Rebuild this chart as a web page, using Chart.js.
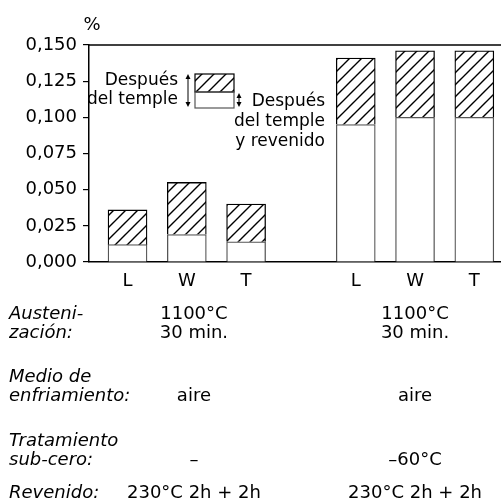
<!DOCTYPE html>
<html>
<head>
<meta charset="utf-8">
<script src="https://cdn.jsdelivr.net/npm/chart.js@4/dist/chart.umd.min.js"></script>
<style>
  html, body { margin: 0; padding: 0; background: #fff; }
  #wrap { width: 501px; height: 503px; }
</style>
</head>
<body>
<div id="wrap"><canvas id="chart"></canvas></div>
<script>
'use strict';

// Data (% retained austenite / change).
const categories = ['L', 'W', 'T', 'L', 'W', 'T'];
const afterQuench = [0.036, 0.055, 0.040, 0.141, 0.146, 0.146];     // después del temple
const afterTempering = [0.012, 0.019, 0.014, 0.095, 0.100, 0.100];  // después del temple y revenido

// Condition table under the bars.
const rowLabels = [['Austeni-', 'zación:'], ['Medio de', 'enfriamiento:'], ['Tratamiento', 'sub-cero:'], ['Revenido:']];
const group1Conditions = [['1100°C', '30 min.'], ['aire'], ['–'], ['230°C 2h + 2h']];
const group2Conditions = [['1100°C', '30 min.'], ['aire'], ['–60°C'], ['230°C 2h + 2h']];

// Layout (not data): x positions of the bars, so the two groups have a gap.
const xPos = [1, 2, 3, 4.85, 5.85, 6.85];
const FONT = '"DejaVu Sans", sans-serif';

function makeHatch(ctx) {
    let c = document.createElement('canvas');
    c.width = 12;
    c.height = 12;
    let g = c.getContext('2d');
    g.fillStyle = '#fff';
    g.fillRect(0, 0, 12, 12);
    g.strokeStyle = '#000';
    g.lineWidth = 1.4;
    g.beginPath();
    g.moveTo(0, 12); g.lineTo(12, 0);
    g.moveTo(-3, 3); g.lineTo(3, -3);
    g.moveTo(9, 15); g.lineTo(15, 9);
    g.stroke();
    return ctx.createPattern(c, 'repeat');
}

function arrow(ctx, x, y1, y2) {
    ctx.beginPath();
    ctx.moveTo(x, y1 + 3);
    ctx.lineTo(x, y2 - 3);
    ctx.stroke();
    ctx.beginPath();
    ctx.moveTo(x, y1); ctx.lineTo(x - 2.5, y1 + 5); ctx.lineTo(x + 2.5, y1 + 5); ctx.closePath();
    ctx.moveTo(x, y2); ctx.lineTo(x - 2.5, y2 - 5); ctx.lineTo(x + 2.5, y2 - 5); ctx.closePath();
    ctx.fill();
}

const canvas = document.getElementById('chart');
const ctx = canvas.getContext('2d');
const hatch = makeHatch(ctx);

const annotations = {
    id: 'annotations',
    afterDraw(chart) {
        let c = chart.ctx;
        let area = chart.chartArea;
        let xs = chart.scales.x;
        c.save();
        c.strokeStyle = '#000';
        c.fillStyle = '#000';
        c.lineWidth = 1.5;

        // top frame line
        c.beginPath();
        c.moveTo(area.left, area.top);
        c.lineTo(chart.width, area.top);
        c.stroke();

        c.font = '18px ' + FONT;
        c.textBaseline = 'middle';

        // unit
        c.textAlign = 'center';
        c.fillText('%', 92, 25);

        // inset legend
        let bx = 195, bw = 39;
        c.fillStyle = hatch;
        c.fillRect(bx, 74, bw, 18);
        c.fillStyle = '#000';
        c.lineWidth = 1.2;
        c.strokeRect(bx, 74, bw, 18);
        c.strokeStyle = '#555';
        c.strokeRect(bx, 92, bw, 16);
        c.strokeStyle = '#000';
        c.lineWidth = 1;
        arrow(c, 188, 74, 107);
        arrow(c, 239, 93, 107);

        c.font = '17px ' + FONT;
        c.textAlign = 'right';
        c.fillText('Después', 178, 81);
        c.fillText('del temple', 178, 100);
        c.fillText('Después', 325, 102);
        c.fillText('del temple', 325, 122);
        c.fillText('y revenido', 325, 142);

        // condition table
        let rowY = [314, 377, 441, 493];
        let lineH = 19;
        let g1x = xs.getPixelForValue(2.12);
        let g2x = xs.getPixelForValue(5.85);
        rowLabels.forEach((lines, r) => {
            c.font = 'italic 18px ' + FONT;
            c.textAlign = 'left';
            lines.forEach((t, i) => c.fillText(t, 9, rowY[r] + i * lineH));
            c.font = '18px ' + FONT;
            c.textAlign = 'center';
            let off = lines.length - group1Conditions[r].length;
            group1Conditions[r].forEach((t, i) => c.fillText(t, g1x, rowY[r] + (i + off) * lineH));
            group2Conditions[r].forEach((t, i) => c.fillText(t, g2x, rowY[r] + (i + off) * lineH));
        });
        c.restore();
    }
};

new Chart(canvas, {
    type: 'bar',
    data: {
        datasets: [
            {
                label: 'Después del temple y revenido',
                data: afterTempering.map((v, i) => ({ x: xPos[i], y: v })),
                backgroundColor: '#fff',
                borderColor: '#555',
                borderWidth: 1.3,
            },
            {
                label: 'Después del temple',
                data: afterQuench.map((v, i) => ({ x: xPos[i], y: v - afterTempering[i] })),
                backgroundColor: hatch,
                borderColor: '#000',
                borderWidth: 1.3,
            },
        ],
    },
    options: {
        responsive: true,
        maintainAspectRatio: false,
        animation: false,
        barThickness: 39,
        layout: { padding: { top: 45, left: 9, right: 0, bottom: 0 } },
        plugins: {
            legend: { display: false },
            tooltip: { enabled: false },
        },
        scales: {
            x: {
                type: 'linear',
                stacked: true,
                offset: false,
                min: 0.35,
                max: 7.3,
                afterFit(s) { s.height = 241; },
                afterBuildTicks(s) { s.ticks = xPos.map(v => ({ value: v })); },
                grid: { display: false, drawTicks: false, offset: false },
                border: { display: true, color: '#000', width: 1.5 },
                ticks: {
                    autoSkip: false,
                    maxRotation: 0,
                    padding: 9,
                    color: '#000',
                    font: { family: FONT, size: 18 },
                    callback: (v, i) => categories[i],
                },
            },
            y: {
                stacked: true,
                min: 0,
                max: 0.15,
                afterFit(s) { s.width = 80; },
                grid: { drawOnChartArea: false, drawTicks: true, tickLength: 6, color: '#000', lineWidth: 1.2 },
                border: { display: true, color: '#000', width: 1.5 },
                ticks: {
                    stepSize: 0.025,
                    padding: 6,
                    color: '#000',
                    font: { family: FONT, size: 18 },
                    callback: v => v.toFixed(3).replace('.', ','),
                },
            },
        },
    },
    plugins: [annotations],
});
</script>
</body>
</html>
